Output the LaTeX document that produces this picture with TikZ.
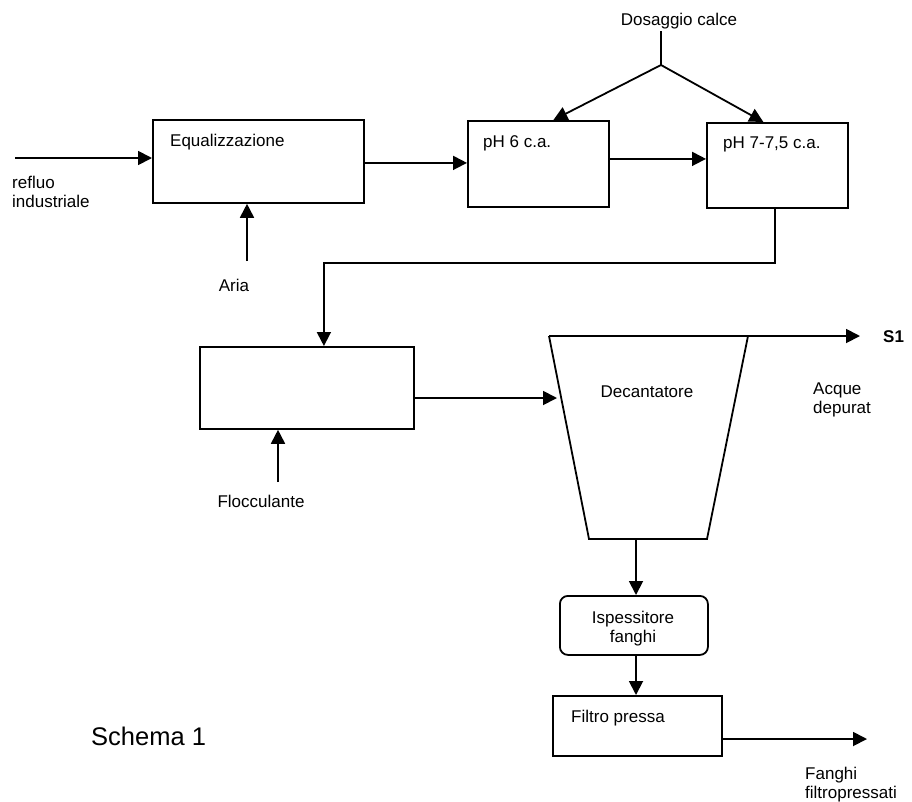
\documentclass[tikz,border=0pt]{standalone}
\usepackage{fontspec}
\setmainfont{Liberation Sans}
\usetikzlibrary{arrows.meta}
\begin{document}
\begin{tikzpicture}[x=1pt,y=-1pt,
  every node/.style={inner sep=0pt, font=\fontsize{17}{19}\selectfont},
  box/.style={draw, line width=1.8pt, anchor=north west},
  ln/.style={line width=1.8pt},
  arr/.style={line width=1.8pt, -{Triangle[length=14pt,width=14pt]}},
  lbl/.style={anchor=base west, align=left},
  clbl/.style={anchor=base, align=center}]
\useasboundingbox (0,0) rectangle (912,801);
% boxes
\node[box, minimum width=211pt, minimum height=83pt] (eq) at (152,119) {};
\node[box, minimum width=141pt, minimum height=86pt] (ph6) at (467,120) {};
\node[box, minimum width=141pt, minimum height=85pt] (ph7) at (706,122) {};
\node[box, minimum width=214pt, minimum height=82pt] (floc) at (199,346) {};
\node[box, rounded corners=8pt, minimum width=148pt, minimum height=59pt] (isp) at (559,595) {};
\node[box, minimum width=169pt, minimum height=60pt] (filtro) at (552,695) {};
% texts
\node[lbl] (teq) at (170,146) {Equalizzazione};
\node[lbl] (tph6) at (483,147) {pH 6 c.a.};
\node[lbl] (tph7) at (723,148) {pH 7-7,5 c.a.};
\node[clbl] (dos) at (679,25) {Dosaggio calce};
\node[lbl] (refluo) at (12,207) {refluo\\industriale};
\node[clbl] (aria) at (234,291) {Aria};
\node[clbl] (flocc) at (261,507) {Flocculante};
\node[clbl] (tdec) at (647,397) {Decantatore};
\node[lbl] (acque) at (813,413) {Acque\\depurat};
\node[lbl, font=\fontsize{17}{19}\selectfont\bfseries] (s1) at (883,342) {S1};
\node[clbl] (tisp) at (633,642) {Ispessitore\\fanghi};
\node[lbl] (tfil) at (571,722) {Filtro pressa};
\node[lbl] (fanghi) at (805,798) {Fanghi\\filtropressati};
\node[lbl, font=\fontsize{25.5}{28}\selectfont] (schema) at (91,745) {Schema 1};
% decanter
\coordinate (dtl) at (549,336);
\coordinate (dtr) at (748,336);
\coordinate (dbr) at (707,539);
\coordinate (dbl) at (589,539);
\coordinate (dinl) at (557,398);
\coordinate (s1tip) at (860,336);
\draw[ln, line join=miter] (dtr) -- (dbr) -- (dbl) -- (dtl);
\draw[arr] (dtl) -- (s1tip);
% connectors
\coordinate (in0) at (15,158);
\draw[arr] (in0) -- (in0 -| eq.west);
\coordinate (aria0) at (247,261);
\draw[arr] (aria0) -- (aria0 |- eq.south);
\draw[arr] ([yshift=-1.5pt]eq.east) -- ([yshift=-1.5pt]eq.east -| ph6.west);
\draw[arr] ([yshift=5pt]ph6.east) -- ([yshift=5pt]ph6.east -| ph7.west);
\coordinate (split) at (661,65);
\draw[ln] (split |- 0,31) -- (split);
\draw[arr] (split) -- ([xshift=15pt]ph6.north);
\draw[arr] (split) -- ([xshift=-14pt]ph7.north);
\coordinate (bend) at (775,263);
\draw[arr] (bend |- ph7.south) -- (bend) -| ([xshift=17pt]floc.north);
\coordinate (floc0) at (278,482);
\draw[arr] (floc0) -- (floc0 |- floc.south);
\draw[arr] (floc.east |- dinl) -- (dinl);
\coordinate (decout) at (636,539);
\draw[arr] (decout) -- (decout |- isp.north);
\draw[arr] (decout |- isp.south) -- (decout |- filtro.north);
\coordinate (fout) at (867,739);
\draw[arr] (fout -| filtro.east) -- (fout);
\end{tikzpicture}
\end{document}
